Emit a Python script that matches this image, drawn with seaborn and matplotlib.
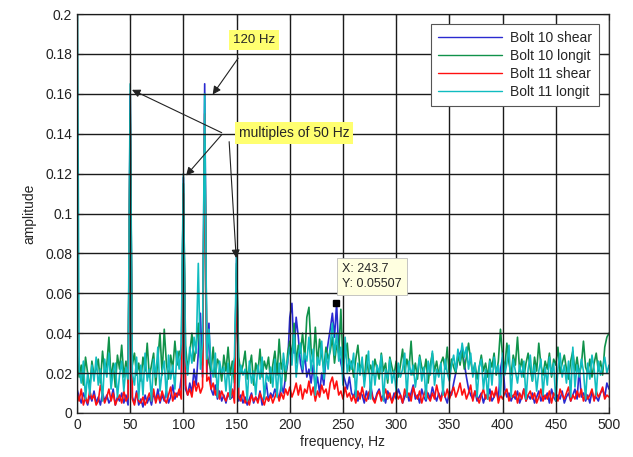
import numpy as np
import pandas as pd
import matplotlib
matplotlib.use("Agg")
import matplotlib.pyplot as plt
import seaborn as sns

# frequency grid (Hz), step 2 Hz
freq = list(range(0, 501, 2))

# amplitudes in thousandths (x 0.001)
bolt11_longit = [
    250, 22, 15, 26, 7, 20, 9, 24, 16, 28,
    14, 22, 6, 27, 18, 30, 12, 21, 25, 8,
    19, 26, 11, 23, 17, 165, 20, 14, 28, 7,
    24, 9, 30, 16, 22, 6, 27, 18, 33, 11,
    21, 26, 8, 29, 17, 24, 12, 31, 22, 35,
    120, 28, 19, 33, 25, 38, 30, 75, 22, 36,
    160, 27, 42, 24, 18, 30, 8, 26, 20, 23,
    11, 25, 7, 21, 28, 80, 13, 24, 19, 22,
    6, 26, 15, 21, 9, 24, 17, 28, 7, 20,
    16, 23, 13, 27, 8, 25, 11, 30, 21, 26,
    33, 24, 40, 18, 29, 35, 22, 30, 26, 38,
    21, 32, 9, 28, 24, 36, 17, 30, 22, 34,
    45, 29, 40, 26, 33, 14, 38, 20, 27, 22,
    30, 8, 25, 19, 28, 13, 23, 31, 7, 26,
    14, 24, 20, 29, 6, 22, 17, 27, 15, 21,
    11, 25, 18, 22, 30, 8, 26, 19, 24, 13,
    21, 28, 16, 23, 7, 26, 19, 31, 14, 22,
    18, 25, 9, 27, 20, 16, 24, 29, 21, 32,
    26, 35, 28, 33, 22, 30, 18, 25, 8, 23,
    27, 12, 22, 7, 26, 14, 28, 20, 24, 9,
    30, 19, 25, 34, 8, 27, 21, 15, 24, 18,
    26, 7, 22, 29, 16, 24, 11, 21, 27, 9,
    23, 14, 28, 19, 25, 6, 22, 30, 18, 24,
    15, 26, 8, 33, 13, 24, 18, 27, 21, 7,
    25, 17, 29, 22, 9, 26, 19, 23, 28, 20,
    24]

bolt10_longit = [
    30, 18, 24, 14, 28, 20, 12, 26, 19, 22,
    27, 15, 31, 20, 24, 38, 17, 25, 13, 29,
    22, 34, 18, 26, 15, 150, 24, 30, 19, 25,
    16, 28, 21, 35, 18, 24, 30, 14, 27, 40,
    19, 42, 25, 17, 29, 22, 36, 24, 31, 27,
    115, 34, 22, 30, 40, 26, 33, 45, 28, 24,
    140, 30, 25, 21, 33, 18, 27, 24, 16, 29,
    21, 33, 19, 26, 15, 75, 28, 20, 24, 31,
    17, 23, 29, 14, 25, 20, 32, 18, 26, 22,
    28, 15, 24, 31, 19, 37, 22, 27, 16, 30,
    36, 28, 45, 25, 34, 30, 40, 27, 48, 53,
    32, 26, 43, 24, 37, 29, 22, 33, 27, 31,
    38, 25, 34, 30, 52, 24, 29, 35, 21, 26,
    18, 27, 34, 22, 25, 16, 29, 20, 24, 19,
    27, 22, 17, 30, 21, 25, 15, 28, 23, 19,
    26, 18, 24, 32, 20, 27, 22, 36, 19, 25,
    17, 29, 23, 20, 27, 15, 24, 30, 21, 26,
    19, 25, 28, 22, 33, 18, 27, 23, 20, 29,
    24, 31, 22, 28, 35, 26, 20, 25, 17, 23,
    29, 21, 25, 18, 27, 23, 30, 19, 26, 42,
    28, 22, 35, 25, 19, 29, 24, 38, 21, 27,
    18, 25, 30, 22, 16, 28, 21, 35, 24, 19,
    26, 22, 30, 18, 27, 24, 33, 20, 25, 29,
    22, 17, 26, 31, 21, 28, 19, 24, 36, 23,
    20, 27, 18, 25, 30, 21, 26, 19, 33, 38,
    40]

bolt10_shear = [
    12, 8, 5, 10, 7, 4, 9, 6, 11, 5,
    8, 4, 10, 6, 9, 5, 7, 12, 4, 8,
    6, 10, 5, 9, 4, 160, 8, 5, 11, 4,
    7, 3, 9, 5, 8, 4, 10, 6, 12, 5,
    9, 6, 11, 5, 8, 14, 7, 10, 9, 18,
    118, 12, 9, 15, 10, 22, 14, 30, 50, 18,
    165, 20, 45, 12, 9, 14, 7, 11, 6, 9,
    5, 10, 7, 8, 12, 78, 6, 9, 5, 8,
    4, 7, 10, 5, 8, 6, 11, 4, 9, 15,
    6, 10, 8, 12, 9, 7, 14, 10, 18, 25,
    48, 55, 30, 48, 38, 25, 20, 30, 18, 22,
    15, 24, 12, 18, 10, 20, 14, 28, 35, 42,
    50, 38, 55, 30, 25, 20, 16, 12, 18, 10,
    8, 12, 6, 10, 9, 5, 11, 7, 14, 8,
    6, 10, 12, 7, 9, 5, 11, 8, 6, 10,
    7, 12, 9, 5, 8, 11, 6, 10, 14, 7,
    9, 5, 12, 8, 6, 10, 7, 13, 9, 6,
    10, 7, 12, 8, 5, 11, 9, 15, 20, 28,
    30, 32, 25, 18, 12, 9, 7, 11, 6, 8,
    10, 5, 9, 7, 12, 6, 8, 11, 7, 22,
    28, 12, 8, 10, 6, 9, 7, 11, 5, 8,
    12, 6, 9, 7, 10, 5, 8, 11, 6, 9,
    7, 10, 5, 12, 8, 6, 9, 7, 11, 5,
    8, 10, 6, 9, 12, 7, 22, 8, 10, 6,
    9, 5, 11, 7, 8, 6, 10, 12, 8, 15,
    12]

bolt11_shear = [
    10, 6, 12, 4, 8, 5, 11, 7, 9, 4,
    6, 14, 9, 5, 8, 12, 6, 10, 4, 7,
    9, 5, 11, 6, 8, 145, 7, 4, 10, 6,
    5, 8, 4, 7, 10, 6, 12, 5, 9, 6,
    11, 7, 5, 9, 13, 6, 10, 8, 12, 7,
    110, 14, 9, 12, 8, 16, 11, 15, 10, 13,
    150, 16, 18, 12, 15, 9, 13, 7, 11, 8,
    6, 10, 7, 12, 5, 70, 8, 6, 11, 5,
    7, 4, 9, 6, 8, 5, 10, 7, 4, 8,
    6, 9, 5, 8, 11, 6, 10, 7, 12, 9,
    13, 8, 11, 15, 9, 14, 7, 12, 10, 16,
    9, 13, 6, 11, 8, 14, 10, 12, 7, 15,
    18, 12, 16, 9, 11, 7, 13, 8, 10, 6,
    9, 5, 11, 7, 13, 8, 6, 10, 12, 7,
    5, 9, 11, 6, 8, 12, 7, 10, 5, 8,
    11, 7, 9, 5, 12, 8, 10, 6, 13, 9,
    7, 11, 5, 9, 12, 8, 6, 10, 7, 14,
    9, 6, 11, 8, 12, 7, 10, 13, 8, 11,
    15, 9, 12, 7, 10, 14, 6, 11, 8, 5,
    9, 12, 7, 10, 6, 11, 8, 13, 5, 9,
    7, 10, 12, 6, 9, 8, 11, 5, 10, 7,
    12, 6, 9, 11, 7, 10, 5, 8, 12, 6,
    9, 7, 11, 5, 10, 8, 6, 12, 9, 7,
    10, 13, 6, 9, 7, 11, 8, 12, 6, 10,
    7, 9, 12, 6, 11, 8, 10, 13, 7, 9,
    8]

series_names = ["Bolt 10 shear", "Bolt 10 longit", "Bolt 11 shear", "Bolt 11 longit"]
series_vals = [bolt10_shear, bolt10_longit, bolt11_shear, bolt11_longit]
series_colors = ["#2a2ad0", "#10924a", "#ff1010", "#10bcc0"]

x_ticks = list(range(0, 501, 50))
y_ticks = [0, 0.02, 0.04, 0.06, 0.08, 0.1, 0.12, 0.14, 0.16, 0.18, 0.2]
y_tick_labels = ["0", "0.02", "0.04", "0.06", "0.08", "0.1", "0.12", "0.14", "0.16", "0.18", "0.2"]

tip_x, tip_y = 243.7, 0.05507

frames = []
for name, vals in zip(series_names, series_vals):
    frames.append(pd.DataFrame({"frequency": freq,
                                "amplitude": np.array(vals) / 1000.0,
                                "series": name}))
df = pd.concat(frames, ignore_index=True)

sns.set_style("white")
plt.rcParams["font.family"] = ["Liberation Sans", "DejaVu Sans"]

fig = plt.figure(figsize=(6.33, 4.57), dpi=100)
ax = fig.add_axes([77 / 633, 1 - 413 / 457, (609 - 77) / 633, (413 - 14) / 457])

sns.lineplot(data=df, x="frequency", y="amplitude", hue="series",
             hue_order=series_names, palette=series_colors,
             estimator=None, sort=False, linewidth=1.2, ax=ax, legend=False)

ax.set_xlim(0, 500)
ax.set_ylim(0, 0.2)
ax.set_xticks(x_ticks)
ax.set_xticklabels([str(t) for t in x_ticks])
ax.set_yticks(y_ticks)
ax.set_yticklabels(y_tick_labels)
ax.tick_params(direction="in", length=4, labelsize=10, colors="#222222",
               top=True, right=True, bottom=True, left=True)
ax.grid(True, color="#1a1a1a", linewidth=1.0, linestyle="-")
ax.set_axisbelow(False)
for sp in ax.spines.values():
    sp.set_color("#333333")
    sp.set_linewidth(0.9)
    sp.set_visible(True)

ax.set_xlabel("frequency, Hz", fontsize=10, labelpad=2)
ax.set_ylabel("amplitude", fontsize=10, labelpad=6)

from matplotlib.lines import Line2D
handles = [Line2D([0], [0], color=c, lw=1.0) for c in series_colors]
leg = ax.legend(handles, series_names, loc="upper right", fontsize=10,
                frameon=True, fancybox=False, edgecolor="#555555",
                framealpha=1, handlelength=4.6, borderaxespad=0.7,
                labelspacing=0.3, handletextpad=0.6, borderpad=0.5)
leg.get_frame().set_linewidth(0.8)

yellow = dict(boxstyle="square,pad=0.28", fc="#ffff70", ec="none")
ax.text(166.5, 0.187, "120 Hz", fontsize=9.5, ha="center", va="center", bbox=yellow)
ax.annotate("", xy=(126, 0.1585), xytext=(153, 0.179),
            arrowprops=dict(arrowstyle="-|>", color="#222222", lw=0.8, mutation_scale=12))

ax.text(204, 0.1405, "multiples of 50 Hz", fontsize=10, ha="center", va="center", bbox=yellow)
for tx, ty, x0, y0 in [(51.7, 0.162, 136, 0.1405),
                       (102.5, 0.119, 136, 0.1395),
                       (149.6, 0.0777, 143, 0.136)]:
    ax.annotate("", xy=(tx, ty), xytext=(x0, y0),
                arrowprops=dict(arrowstyle="-|>", color="#222222", lw=0.8,
                                mutation_scale=12, shrinkA=0, shrinkB=0))

ax.plot([tip_x], [tip_y], marker="s", color="black", markersize=5, zorder=6)
ax.text(249, 0.0685, "X: 243.7\nY: 0.05507", fontsize=9, ha="left", va="center",
        linespacing=1.4,
        bbox=dict(boxstyle="square,pad=0.4", fc="#ffffe0", ec="#bbbbbb", lw=0.6), zorder=7)

fig.savefig("out.png", dpi=100)
